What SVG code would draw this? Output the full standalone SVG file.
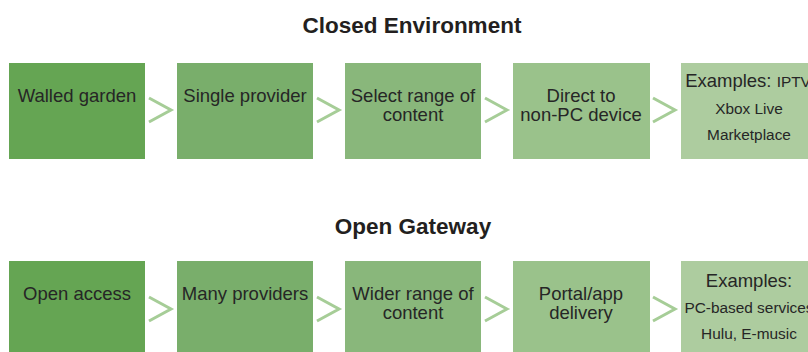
<svg xmlns="http://www.w3.org/2000/svg" width="808" height="352" viewBox="0 0 808 352">
<style>
.t{font-family:"Liberation Sans",Arial,sans-serif;font-size:18.5px;fill:#262626;text-anchor:middle}
.s{font-size:15.4px}
.h{font-family:"Liberation Sans",Arial,sans-serif;font-size:22.5px;font-weight:bold;fill:#231f20;text-anchor:middle}
.c1{fill:#65a553}.c2{fill:#79ae6b}.c3{fill:#89b77b}.c4{fill:#9ac28b}.c5{fill:#adcc9f}
.ch{fill:none;stroke:#a6cd97;stroke-width:3}
</style>
<rect width="808" height="352" fill="#fff"/>
<text class="h" x="412" y="33">Closed Environment</text>
<text class="h" x="413" y="234">Open Gateway</text>

<g id="n1"><rect class="c1" x="9" y="63" width="136" height="96"/><text class="t" x="77" y="102">Walled garden</text></g>
<g id="n2"><rect class="c2" x="177" y="63" width="136" height="96"/><text class="t" x="245" y="102">Single provider</text></g>
<g id="n3"><rect class="c3" x="345" y="63" width="136" height="96"/><text class="t" x="413" y="102">Select range of</text><text class="t" x="413" y="121">content</text></g>
<g id="n4"><rect class="c4" x="513" y="63" width="137" height="96"/><text class="t" x="581" y="102">Direct to</text><text class="t" x="581" y="121">non-PC device</text></g>
<g id="n5"><rect class="c5" x="681" y="63" width="136" height="96"/><text class="t" x="748" y="87">Examples: <tspan class="s">IPTV</tspan></text><text class="t s" x="749" y="114">Xbox Live</text><text class="t s" x="749" y="140">Marketplace</text></g>

<g id="m1"><rect class="c1" x="9" y="261" width="136" height="96"/><text class="t" x="77" y="300">Open access</text></g>
<g id="m2"><rect class="c2" x="177" y="261" width="136" height="96"/><text class="t" x="245" y="300">Many providers</text></g>
<g id="m3"><rect class="c3" x="345" y="261" width="136" height="96"/><text class="t" x="413" y="300">Wider range of</text><text class="t" x="413" y="319">content</text></g>
<g id="m4"><rect class="c4" x="513" y="261" width="137" height="96"/><text class="t" x="581" y="300">Portal/app</text><text class="t" x="581" y="319">delivery</text></g>
<g id="m5"><rect class="c5" x="681" y="261" width="136" height="96"/><text class="t" x="749" y="286.5">Examples:</text><text class="t s" x="749" y="313">PC-based services</text><text class="t s" x="749" y="338.5">Hulu, E-music</text></g>

<g id="connectors">
<path class="ch" d="M149 98 L171 110 L149 122"/>
<path class="ch" d="M317 98 L339 110 L317 122"/>
<path class="ch" d="M485 98 L507 110 L485 122"/>
<path class="ch" d="M653 98 L675 110 L653 122"/>
<path class="ch" d="M149 297 L171 309 L149 321"/>
<path class="ch" d="M317 297 L339 309 L317 321"/>
<path class="ch" d="M485 297 L507 309 L485 321"/>
<path class="ch" d="M653 297 L675 309 L653 321"/>
</g>
</svg>
